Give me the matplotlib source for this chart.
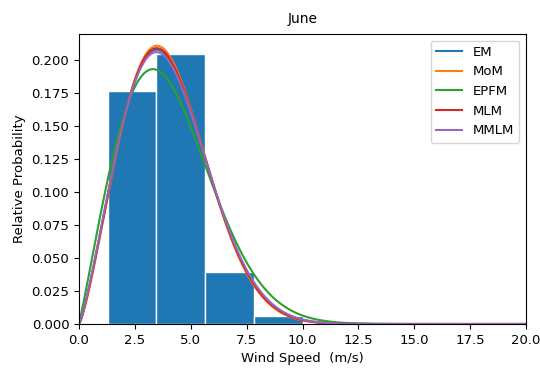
import numpy as np
import matplotlib
matplotlib.use("Agg")
import matplotlib.pyplot as plt

# Histogram (relative probability density)
bin_edges = [1.28, 3.46, 5.64, 7.82, 10.0, 12.18]
bin_heights = [0.1765, 0.2045, 0.0394, 0.0062, 0.0008]

# Weibull fits (shape k, scale c) per method
methods = ["EM", "MoM", "EPFM", "MLM", "MMLM"]
shape_k = [2.26, 2.29, 2.07, 2.27, 2.24]
scale_c = [4.50, 4.48, 4.55, 4.49, 4.51]
colors = ["#1f77b4", "#ff7f0e", "#2ca02c", "#d62728", "#9467bd"]

fig = plt.figure(figsize=(5.4, 3.68), dpi=100)
ax = fig.add_axes([79/540, 1-324/368, (526-79)/540, (324-34)/368])

widths = np.diff(bin_edges)
ax.bar(bin_edges[:-1], bin_heights, width=widths, align="edge",
       color="#1f77b4", edgecolor="white", linewidth=1)

x = np.linspace(0, 20, 600)
for name, k, c, col in zip(methods, shape_k, scale_c, colors):
    pdf = (k / c) * (x / c) ** (k - 1) * np.exp(-(x / c) ** k)
    ax.plot(x, pdf, color=col, label=name, linewidth=1.5)

ax.set_xlim(0, 20)
ax.set_ylim(0, 0.2195)
ax.set_xticks(np.arange(0, 20.1, 2.5))
ax.set_yticks(np.arange(0, 0.201, 0.025))
ax.yaxis.set_major_formatter(matplotlib.ticker.FormatStrFormatter("%.3f"))
ax.set_title("June", fontsize=10, pad=8)
ax.set_xlabel("Wind Speed  (m/s)", fontsize=9.5)
ax.set_ylabel("Relative Probability", fontsize=9.5)
ax.tick_params(labelsize=9.5)
ax.legend(loc="upper right", fontsize=9.5)

fig.savefig("out.png", dpi=100)
